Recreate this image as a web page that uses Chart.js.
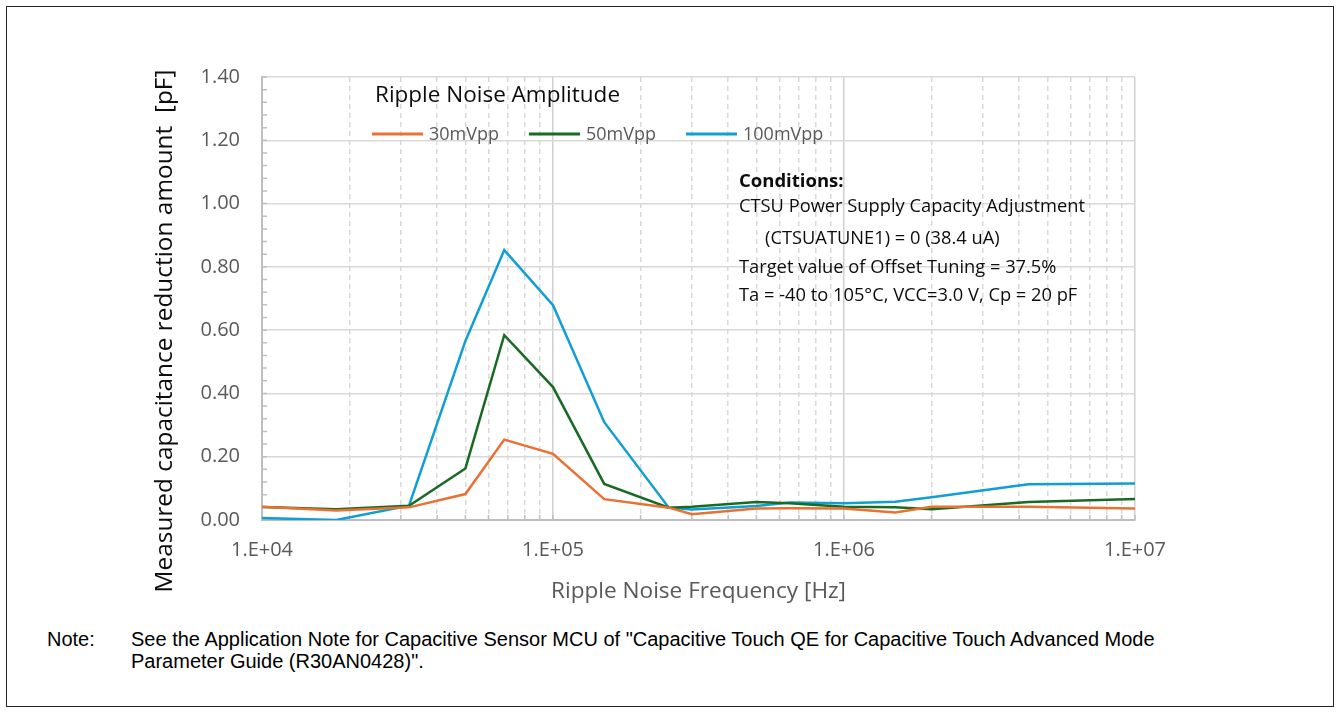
<!DOCTYPE html>
<html>
<head>
<meta charset="utf-8">
<title>Ripple noise vs. capacitance reduction</title>
<script src="https://cdn.jsdelivr.net/npm/chart.js@4.4.1/dist/chart.umd.min.js"></script>
<style>
    html, body { margin: 0; padding: 0; background: #fff; }
    body { width: 1340px; height: 713px; position: relative; overflow: hidden; }
    #frame { position: absolute; left: 6px; top: 6px; width: 1328px; height: 701px; border: 1px solid #262626; box-sizing: border-box; }
    #chart-wrap { position: absolute; left: 0; top: 0; width: 1340px; height: 615px; }
    #note { position: absolute; left: 47px; top: 628px; font-family: "Liberation Sans", Arial, sans-serif; font-size: 20px; line-height: 22px; color: #000; display: flex; }
    #note .label { width: 84px; }
</style>
</head>
<body>
<div id="frame"></div>
<div id="chart-wrap"><canvas id="ripple-chart"></canvas></div>
<div id="note">
    <div class="label">Note:</div>
    <div>See the Application Note for Capacitive Sensor MCU of "Capacitive Touch QE for Capacitive Touch Advanced Mode<br>Parameter Guide (R30AN0428)".</div>
</div>
<script>
// Ripple noise frequency [Hz]
const frequencies = [1e4, 1.8e4, 3.2e4, 5e4, 6.8e4, 1e5, 1.5e5, 2.5e5, 3e5, 5e5, 6.5e5, 1e6, 1.5e6, 2e6, 4.3e6, 1e7];

// Measured capacitance reduction amount [pF]
const ripple30mV = [0.042, 0.030, 0.040, 0.082, 0.254, 0.209, 0.066, 0.039, 0.018, 0.036, 0.037, 0.036, 0.024, 0.042, 0.042, 0.036];
const ripple50mV = [0.041, 0.034, 0.045, 0.163, 0.584, 0.420, 0.114, 0.039, 0.042, 0.057, 0.053, 0.042, 0.040, 0.034, 0.057, 0.066];
const ripple100mV = [0.006, 0.000, 0.045, 0.566, 0.853, 0.679, 0.309, 0.039, 0.033, 0.044, 0.055, 0.053, 0.058, 0.072, 0.113, 0.115];

const seriesLabels = ['30mVpp', '50mVpp', '100mVpp'];
const seriesColors = ['#E97132', '#196B24', '#0F9ED5'];

const decadeTicks = [1e4, 1e5, 1e6, 1e7];
const minorSteps = [2, 3, 4, 5, 6, 7, 8, 9];
const yTicks = [0, 0.2, 0.4, 0.6, 0.8, 1.0, 1.2, 1.4];

const conditionLines = [
    'CTSU Power Supply Capacity Adjustment',
    '    (CTSUATUNE1) = 0 (38.4 uA)',
    'Target value of Offset Tuning = 37.5%',
    'Ta = -40 to 105\u00B0C, VCC=3.0 V, Cp = 20 pF'
];

const FONT = '"Open Sans", "Noto Sans", sans-serif';
const GRID = '#d9d9d9';
const AXIS = '#bfbfbf';

function toPoints(values) {
    return frequencies.map((f, i) => ({ x: f, y: values[i] }));
}

const minorTicks = [];
decadeTicks.slice(0, -1).forEach(d => minorSteps.forEach(m => minorTicks.push(d * m)));

// Inner tick marks on both axes
const innerTicks = {
    id: 'innerTicks',
    beforeDatasetsDraw(chart) {
        const { ctx, chartArea } = chart;
        const x = chart.scales.x, y = chart.scales.y;
        ctx.save();
        ctx.strokeStyle = AXIS;
        ctx.lineWidth = 1.5;
        ctx.beginPath();
        for (let v = 0; v <= 1.4001; v += 0.04) {
            const py = y.getPixelForValue(v);
            ctx.moveTo(chartArea.left, py);
            ctx.lineTo(chartArea.left + 5, py);
        }
        decadeTicks.concat(minorTicks).forEach(f => {
            const px = x.getPixelForValue(f);
            ctx.moveTo(px, chartArea.bottom);
            ctx.lineTo(px, chartArea.bottom - 5);
        });
        ctx.stroke();
        ctx.restore();
    }
};

// Legend box, conditions note and y-axis title
const annotations = {
    id: 'annotations',
    afterDraw(chart) {
        const { ctx, chartArea } = chart;
        ctx.save();
        ctx.textBaseline = 'middle';
        ctx.textAlign = 'left';

        // legend
        const lx = chartArea.left + 110;
        ctx.fillStyle = '#0d0d0d';
        ctx.font = '22.5px ' + FONT;
        ctx.fillText('Ripple Noise Amplitude', lx + 3, chartArea.top + 19);
        ctx.font = '18px ' + FONT;
        let cx = lx;
        const ly = chartArea.top + 57;
        chart.data.datasets.forEach(ds => {
            ctx.strokeStyle = ds.borderColor;
            ctx.lineWidth = 3;
            ctx.beginPath();
            ctx.moveTo(cx, ly);
            ctx.lineTo(cx + 51, ly);
            ctx.stroke();
            ctx.fillStyle = '#595959';
            ctx.fillText(ds.label, cx + 57, ly + 1);
            cx += 57 + ctx.measureText(ds.label).width + 30;
        });

        // conditions
        const tx = chartArea.left + 477;
        const rows = [chartArea.top + 130, chartArea.top + 162, chartArea.top + 191, chartArea.top + 219];
        ctx.fillStyle = '#0d0d0d';
        ctx.font = 'bold 18.5px ' + FONT;
        ctx.fillText('Conditions:', tx, chartArea.top + 105);
        ctx.font = '18.3px ' + FONT;
        conditionLines.forEach((t, i) => {
            const indent = t.startsWith('    ') ? 26 : 0;
            ctx.fillText(t.trim(), tx + indent, rows[i]);
        });

        // y title
        ctx.translate(165, 331);
        ctx.rotate(-Math.PI / 2);
        ctx.textAlign = 'center';
        ctx.fillStyle = '#0d0d0d';
        ctx.font = '24.4px ' + FONT;
        ctx.fillText('Measured capacitance reduction amount  [pF]', 0, 0);
        ctx.restore();
    }
};

const ctx = document.getElementById('ripple-chart').getContext('2d');
const rippleChart = new Chart(ctx, {
    type: 'line',
    data: {
        datasets: [ripple30mV, ripple50mV, ripple100mV].map((vals, i) => ({
            label: seriesLabels[i],
            data: toPoints(vals),
            borderColor: seriesColors[i],
            backgroundColor: seriesColors[i],
            borderWidth: 2.5,
            pointRadius: 0,
            tension: 0,
            fill: false
        }))
    },
    options: {
        responsive: true,
        maintainAspectRatio: false,
        animation: false,
        layout: { padding: { top: 77, right: 205, bottom: 0, left: 0 } },
        plugins: {
            legend: { display: false },
            tooltip: { enabled: false }
        },
        scales: {
            x: {
                type: 'logarithmic',
                min: 1e4,
                max: 1e7,
                afterBuildTicks: scale => { scale.ticks = decadeTicks.map(v => ({ value: v })); },
                afterFit: scale => { scale.height = 95; },
                ticks: {
                    color: '#595959',
                    font: { family: FONT, size: 20 },
                    padding: 18,
                    maxRotation: 0,
                    callback: v => '1.E+' + String(Math.round(Math.log10(v))).padStart(2, '0')
                },
                grid: { color: '#d0d0d0', lineWidth: 1.5, drawTicks: false },
                border: { color: AXIS, width: 2 },
                title: {
                    display: true,
                    text: 'Ripple Noise Frequency [Hz]',
                    color: '#595959',
                    font: { family: FONT, size: 22.6 },
                    padding: { top: 0, bottom: 10 }
                }
            },
            xMinor: {
                type: 'logarithmic',
                position: 'top',
                min: 1e4,
                max: 1e7,
                afterBuildTicks: scale => { scale.ticks = minorTicks.map(v => ({ value: v })); },
                afterFit: scale => { scale.height = 0; },
                ticks: { display: false },
                grid: { color: GRID, lineWidth: 1.5, drawTicks: false },
                border: { display: false, dash: [5, 4] }
            },
            y: {
                min: 0,
                max: 1.4,
                afterBuildTicks: scale => { scale.ticks = yTicks.map(v => ({ value: v })); },
                afterFit: scale => { scale.width = 262; },
                ticks: {
                    color: '#595959',
                    font: { family: FONT, size: 20 },
                    padding: 22,
                    callback: v => v.toFixed(2)
                },
                grid: { color: GRID, lineWidth: 1.5, drawTicks: false },
                border: { color: AXIS, width: 2 }
            }
        }
    },
    plugins: [innerTicks, annotations]
});
</script>
</body>
</html>
